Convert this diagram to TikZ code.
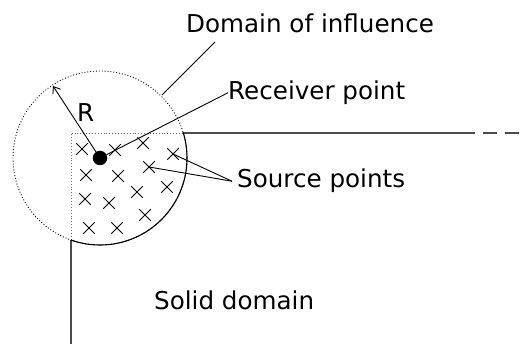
\documentclass[tikz,border=0pt]{standalone}
\usepackage{fontspec}
\setmainfont{DejaVu Sans}
\usetikzlibrary{arrows.meta,shapes.misc}

\begin{document}
\begin{tikzpicture}[x=1pt, y=-1pt,
  labeltext/.style={font=\fontsize{24.6}{29}\selectfont, inner sep=0pt, anchor=base west},
  srcmark/.style={cross out, draw, minimum size=10.5pt, inner sep=0pt, line width=1pt},
  leader/.style={line width=0.9pt},
  wall/.style={line width=1.4pt, black!70}]
  \useasboundingbox (0,0) rectangle (521,344);

  % Solid domain boundary (solid outside the circle, dotted inside)
  \draw[wall] (184.3,133) -- (475,133);
  \draw[wall, dash pattern=on 14pt off 8pt] (483,133) -- (521,133);
  \draw[wall] (71,239.7) -- (71,344);
  \draw[black!60, dotted, line width=0.9pt] (71,239.7) -- (71,133) -- (184.3,133);

  % Domain of influence
  \coordinate (c) at (100,158);
  \draw[dotted, line width=0.9pt] (c) circle[radius=87];
  \begin{scope}
    \clip (71,133) rectangle (300,344);
    \draw[line width=1.1pt] (c) circle[radius=87];
  \end{scope}

  % Source points
  \foreach \px/\py [count=\i] in {82/149, 115/150, 143/143, 173/154, 86/175, 118/176, 149/167,
      167/187, 137/192, 85/199, 109/203, 145/215, 89/228, 117/228}
    \node[srcmark] (s\i) at (\px,\py) {};

  % Receiver point and radius
  \node[circle, fill, inner sep=0pt, minimum size=14.5pt] (rcv) at (c) {};
  \coordinate (rtip) at (53,86);
  \draw[leader, -{Straight Barb[length=6pt, width=9pt]}] (rcv.center) -- (rtip);
  \node[labeltext] (rlab) at (77,122) {R};

  % Labels
  \node[labeltext] (dom) at (186,33) {Domain of influence};
  \node[labeltext] (rec) at (228,99.5) {Receiver point};
  \node[labeltext, inner xsep=5pt] (srcl) at (232,188) {Source points};
  \node[labeltext] (sol) at (154,309) {Solid domain};

  % Leaders
  \coordinate (dtail) at (215,42);
  \coordinate (dhit) at (162,95);
  \draw[leader] (dtail) -- (dhit);
  \draw[leader] (rec.west) -- (rcv);
  \draw[leader] (srcl.west) -- (s4.center);
  \draw[leader] (srcl.west) -- (s7.center);
\end{tikzpicture}
\end{document}
